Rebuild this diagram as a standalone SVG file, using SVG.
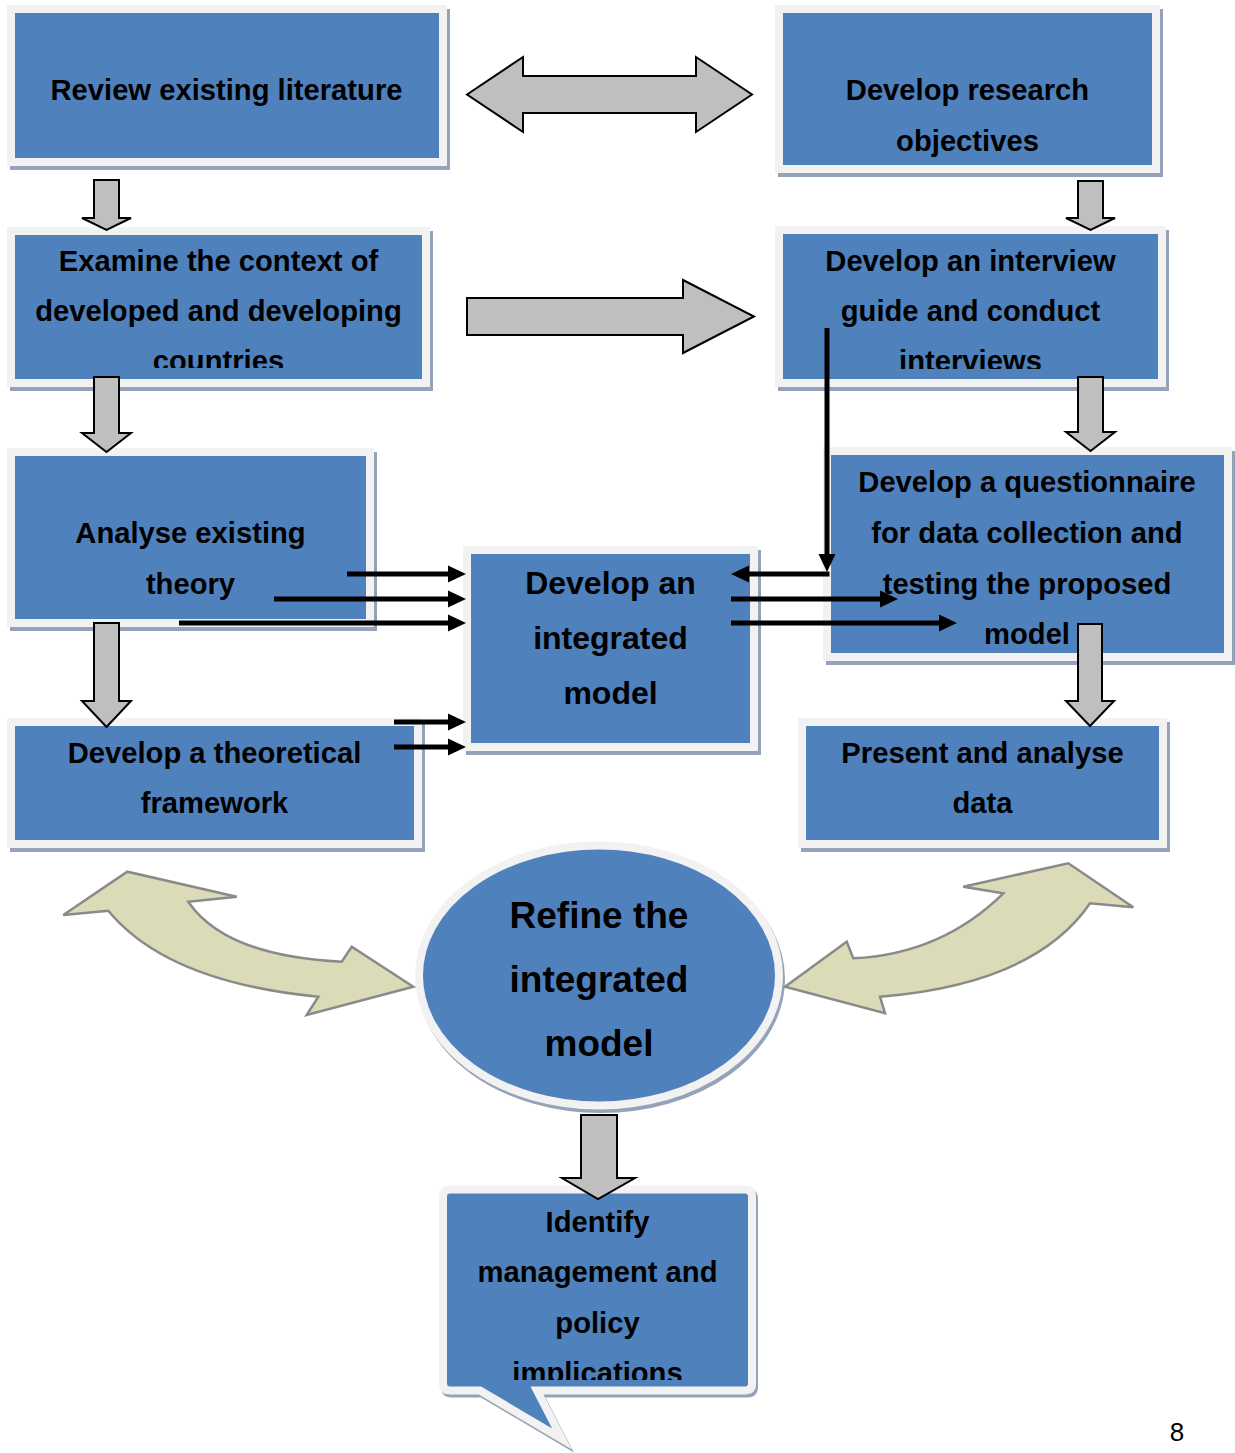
<svg xmlns="http://www.w3.org/2000/svg" width="1235" height="1453" viewBox="0 0 1235 1453">
  <style>
    .frame{fill:#4f81bd;stroke:#f2f2f2;stroke-width:8;stroke-linejoin:miter;stroke-miterlimit:10}
    .shadow{fill:#94a3b7;stroke:#94a3b7;stroke-width:8;stroke-linejoin:miter;stroke-miterlimit:10}
    .t{font-family:"Liberation Sans",Arial,Helvetica,sans-serif;font-weight:bold;font-size:29.2px;fill:#000;text-anchor:middle}
    .t32{font-size:32px}
    .t37{font-size:37px}
    .page{font-family:"Liberation Sans",Arial,Helvetica,sans-serif;font-size:26px;fill:#000;text-anchor:middle}
    .block{fill:#bfbfbf;stroke:#000;stroke-width:2;stroke-linejoin:miter}
    .wire{stroke:#000;stroke-width:5;fill:none;marker-end:url(#head)}
    .bend{fill:#dcdbb8;stroke:#8a8a8a;stroke-width:2.5;stroke-linejoin:miter;filter:url(#soft)}
  </style>
  <defs>
    <marker id="head" markerUnits="userSpaceOnUse" markerWidth="18" markerHeight="18" refX="8" refY="9" orient="auto">
      <path d="M0,0.5 L18,9 L0,17.5 Z" fill="#000"/>
    </marker>
    <filter id="soft" x="-5%" y="-5%" width="110%" height="110%">
      <feGaussianBlur stdDeviation="0.6"/>
    </filter>
    <clipPath id="clip-context"><rect x="15" y="235" width="408" height="133"/></clipPath>
    <clipPath id="clip-interview"><rect x="783" y="234" width="375" height="135"/></clipPath>
    <clipPath id="clip-policy"><rect x="447" y="1193" width="301" height="187"/></clipPath>
  </defs>

  <!-- Left column -->
  <g id="review-literature">
    <rect class="shadow" x="14" y="13" width="432" height="153"/>
    <rect class="frame" x="11" y="9" width="432" height="153"/>
    <text class="t" x="226.5" y="100">Review existing literature</text>
  </g>

  <g id="examine-context">
    <rect class="shadow" x="14" y="235" width="415" height="152"/>
    <rect class="frame" x="11" y="231" width="415" height="152"/>
    <g clip-path="url(#clip-context)">
      <text class="t" x="218.5" y="271">Examine the context of</text>
      <text class="t" x="218.5" y="321">developed and developing</text>
      <text class="t" x="218.5" y="371">countries</text>
    </g>
  </g>

  <g id="analyse-theory">
    <rect class="shadow" x="14" y="456" width="359" height="171"/>
    <rect class="frame" x="11" y="452" width="359" height="171"/>
    <text class="t" x="190.5" y="543">Analyse existing</text>
    <text class="t" x="190.5" y="594">theory</text>
  </g>

  <g id="theoretical-framework">
    <rect class="shadow" x="14" y="726" width="407" height="122"/>
    <rect class="frame" x="11" y="722" width="407" height="122"/>
    <text class="t" x="214.5" y="763">Develop a theoretical</text>
    <text class="t" x="214.5" y="813">framework</text>
  </g>

  <!-- Centre -->
  <g id="integrated-model">
    <rect class="shadow" x="470" y="554" width="287" height="197"/>
    <rect class="frame" x="467" y="550" width="287" height="197"/>
    <text class="t t32" x="610.5" y="594">Develop an</text>
    <text class="t t32" x="610.5" y="649">integrated</text>
    <text class="t t32" x="610.5" y="704">model</text>
  </g>

  <!-- Right column -->
  <g id="research-objectives">
    <rect class="shadow" x="782" y="13" width="377" height="160"/>
    <rect class="frame" x="779" y="9" width="377" height="160"/>
    <text class="t" x="967.5" y="100">Develop research</text>
    <text class="t" x="967.5" y="151">objectives</text>
  </g>

  <g id="interview-guide">
    <rect class="shadow" x="782" y="234" width="383" height="153"/>
    <rect class="frame" x="779" y="230" width="383" height="153"/>
    <g clip-path="url(#clip-interview)">
      <text class="t" x="970.5" y="271">Develop an interview</text>
      <text class="t" x="970.5" y="321">guide and conduct</text>
      <text class="t" x="970.5" y="371">interviews</text>
    </g>
  </g>

  <g id="questionnaire">
    <rect class="shadow" x="830" y="455" width="401" height="206"/>
    <rect class="frame" x="827" y="451" width="401" height="206"/>
    <text class="t" x="1027" y="492">Develop a questionnaire</text>
    <text class="t" x="1027" y="543">for data collection and</text>
    <text class="t" x="1027" y="594">testing the proposed</text>
    <text class="t" x="1027" y="644">model</text>
  </g>

  <g id="present-data">
    <rect class="shadow" x="805" y="726" width="361" height="122"/>
    <rect class="frame" x="802" y="722" width="361" height="122"/>
    <text class="t" x="982.5" y="763">Present and analyse</text>
    <text class="t" x="982.5" y="813">data</text>
  </g>

  <!-- Refinement and outcome -->
  <g id="refine-model">
    <ellipse class="shadow" cx="601" cy="979" rx="180" ry="130"/>
    <ellipse class="frame" cx="599" cy="975.5" rx="180" ry="130"/>
    <text class="t t37" x="599" y="928">Refine the</text>
    <text class="t t37" x="599" y="992">integrated</text>
    <text class="t t37" x="599" y="1056">model</text>
  </g>

  <g id="policy-implications">
    <path class="shadow" transform="translate(2,3)" d="M450,1189.5 H745 Q752,1189.5 752,1196.5 V1383.5 Q752,1390.5 745,1390.5 H537 L562,1439 L480,1390.5 H450 Q443,1390.5 443,1383.5 V1196.5 Q443,1189.5 450,1189.5 Z"/>
    <path class="frame" d="M450,1189.5 H745 Q752,1189.5 752,1196.5 V1383.5 Q752,1390.5 745,1390.5 H537 L562,1439 L480,1390.5 H450 Q443,1390.5 443,1383.5 V1196.5 Q443,1189.5 450,1189.5 Z"/>
    <g clip-path="url(#clip-policy)">
      <text class="t" x="597.5" y="1232">Identify</text>
      <text class="t" x="597.5" y="1282">management and</text>
      <text class="t" x="597.5" y="1333">policy</text>
      <text class="t" x="597.5" y="1383">implications</text>
    </g>
  </g>

  <!-- Connectors -->
  <g id="connectors">
    <!-- block arrows -->
    <path class="block" d="M467,94.5 L523,57 V76 H696 V57 L752,94.5 L696,132 V113 H523 V132 Z"/>
    <path class="block" d="M467,298 H683 V280 L754,316.5 L683,353 V335 H467 Z"/>
    <path class="block" d="M94,180 H119 V218 H131 L106.5,230 L82,218 H94 Z"/>
    <path class="block" d="M94,377 H119 V433 H131 L106.5,452 L82,433 H94 Z"/>
    <path class="block" d="M94,623 H119 V701 H131 L106.5,727 L82,701 H94 Z"/>
    <path class="block" d="M1078,181 H1103 V218 H1115 L1090.5,230 L1066,218 H1078 Z"/>
    <path class="block" d="M1078,377 H1103 V432 H1115 L1090.5,451 L1066,432 H1078 Z"/>
    <path class="block" d="M1078,624 H1102 V701 H1114 L1090,726 L1066,701 H1078 Z"/>
    <path class="block" d="M581,1115 H617 V1178 H635 L598,1199 L562,1178 H581 Z"/>

    <!-- feeds into the integrated model -->
    <path class="wire" d="M347,574 H456"/>
    <path class="wire" d="M274,599 H456"/>
    <path class="wire" d="M179,623 H456"/>
    <path class="wire" d="M394,722 H456"/>
    <path class="wire" d="M394,747 H456"/>

    <!-- interview findings back to the model -->
    <path class="wire" d="M827,328 V562"/>
    <path class="wire" d="M829.5,574 H741"/>

    <!-- model out to the questionnaire -->
    <path class="wire" d="M731,599 H888"/>
    <path class="wire" d="M731,623 H947"/>

    <!-- curved two-way arrows around the refinement step -->
    <path class="bend" d="M63.3,915 L127.3,871.7 L236.7,896.7 L188.3,901.7 Q225,956 341.7,961.7 L351.7,946.7 L413.3,986.7 L306.7,1015 L318.3,996.7 Q167,982 108.3,910.7 Z"/>
    <path class="bend" d="M785,986.7 L846.7,941.7 L853.3,958.3 Q941.7,954 1003.3,893.3 L963.3,886.7 L1068.3,863.3 L1133.3,907.3 L1090,903.3 Q1035,984 880,996.7 L885,1013.3 Z"/>
  </g>

  <text class="page" x="1177" y="1441">8</text>
</svg>
